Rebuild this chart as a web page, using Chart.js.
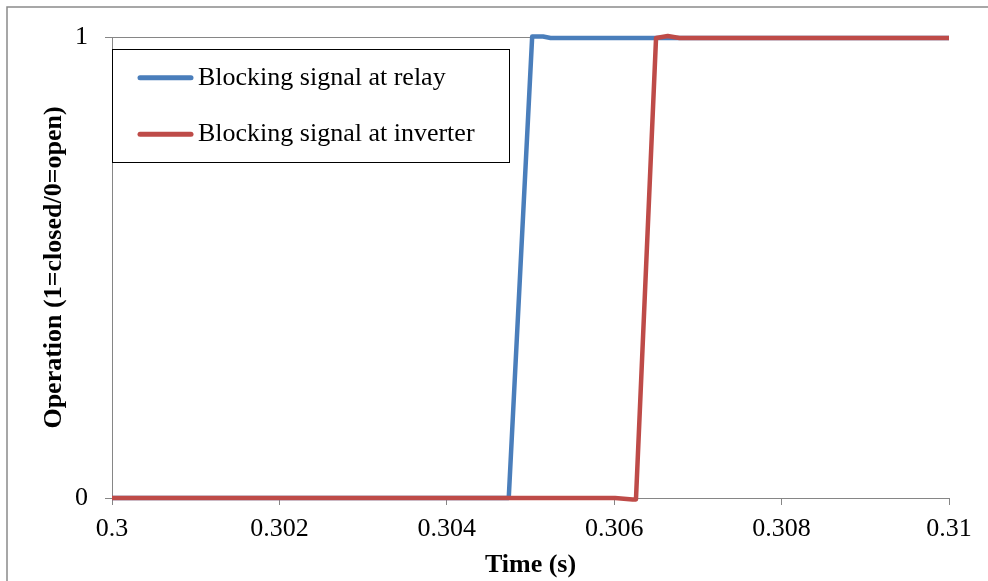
<!DOCTYPE html>
<html>
<head>
<meta charset="utf-8">
<title>Blocking signals</title>
<script src="https://cdn.jsdelivr.net/npm/chart.js@4/dist/chart.umd.min.js"></script>
<style>
  html, body { margin: 0; padding: 0; background: #fff; }
  canvas { display: block; }
</style>
</head>
<body>
<canvas id="chart" width="988" height="581"></canvas>
<script>
// Time axis (s) and tick labels
const xTicks = [0.3, 0.302, 0.304, 0.306, 0.308, 0.31];
const xTickLabels = ['0.3', '0.302', '0.304', '0.306', '0.308', '0.31'];
const yTicks = [0, 1];
const yTickLabels = ['0', '1'];

// Blocking signal at relay
const relayTime  = [0.3, 0.30474, 0.30502, 0.30515, 0.30524, 0.31];
const relayValue = [0,   0,       1.001,   1.001,   0.998,   0.998];

// Blocking signal at inverter
const inverterTime  = [0.3, 0.30601, 0.30622, 0.30626, 0.30650, 0.30664, 0.30678, 0.31];
const inverterValue = [0,   0,       -0.003,  -0.003,  0.998,   1.002,   0.998,   0.998];

const seriesNames = ['Blocking signal at relay', 'Blocking signal at inverter'];
const seriesColors = ['#4A7EBB', '#BE4B48'];

const FONT = '"Liberation Serif", "Times New Roman", serif';
const AXIS_GRAY = '#868686';

const toPoints = (xs, ys) => xs.map((x, i) => ({ x: x, y: ys[i] }));

// Outer frame of the chart object
const framePlugin = {
  id: 'frame',
  beforeDraw(chart) {
    const ctx = chart.ctx;
    ctx.save();
    ctx.fillStyle = '#fff';
    ctx.fillRect(0, 0, chart.width, chart.height);
    ctx.strokeStyle = '#8a8a8a';
    ctx.lineWidth = 1.5;
    ctx.strokeRect(7, 7, chart.width + 20, chart.height + 20);
    ctx.restore();
  }
};

// Boxed legend inside the plot area, top-left
const boxLegend = {
  id: 'boxLegend',
  afterDraw(chart) {
    const { ctx, chartArea } = chart;
    const x0 = chartArea.left;
    const y0 = chartArea.top + 12;
    const w = 397, h = 113;
    ctx.save();
    ctx.fillStyle = '#fff';
    ctx.fillRect(x0, y0, w, h);
    ctx.strokeStyle = '#000';
    ctx.lineWidth = 1;
    ctx.strokeRect(x0 + 0.5, y0 + 0.5, w, h);
    chart.data.datasets.forEach((ds, i) => {
      const y = y0 + 28.7 + i * 56.5;
      ctx.beginPath();
      ctx.strokeStyle = ds.borderColor;
      ctx.lineWidth = 5;
      ctx.lineCap = 'round';
      ctx.moveTo(x0 + 28, y);
      ctx.lineTo(x0 + 79, y);
      ctx.stroke();
      ctx.fillStyle = '#000';
      ctx.font = '26px ' + FONT;
      ctx.textBaseline = 'middle';
      ctx.textAlign = 'left';
      ctx.fillText(ds.label, x0 + 86, y);
    });
    ctx.restore();
  }
};

new Chart(document.getElementById('chart'), {
  type: 'line',
  data: {
    datasets: [
      {
        label: seriesNames[0],
        data: toPoints(relayTime, relayValue),
        borderColor: seriesColors[0],
        backgroundColor: seriesColors[0],
        borderWidth: 4.5,
        pointRadius: 0,
        tension: 0,
        borderJoinStyle: 'round',
        clip: false,
        order: 1
      },
      {
        label: seriesNames[1],
        data: toPoints(inverterTime, inverterValue),
        borderColor: seriesColors[1],
        backgroundColor: seriesColors[1],
        borderWidth: 4.5,
        pointRadius: 0,
        tension: 0,
        borderJoinStyle: 'round',
        clip: false,
        order: 0
      }
    ]
  },
  options: {
    responsive: false,
    animation: false,
    devicePixelRatio: 1,
    layout: { padding: { left: 0, top: 37, right: 39, bottom: 0 } },
    plugins: {
      legend: { display: false },
      tooltip: { enabled: false }
    },
    scales: {
      x: {
        type: 'linear',
        min: 0.3,
        max: 0.31,
        afterBuildTicks: (scale) => { scale.ticks = xTicks.map(v => ({ value: v })); },
        afterFit: (scale) => { scale.height = 83; },
        ticks: {
          color: '#000',
          font: { family: FONT, size: 26 },
          padding: 9,
          maxRotation: 0,
          autoSkip: false,
          callback: (value) => {
            const i = xTicks.findIndex(t => Math.abs(t - value) < 1e-9);
            return i >= 0 ? xTickLabels[i] : '';
          }
        },
        grid: {
          drawOnChartArea: false,
          drawTicks: true,
          tickLength: 7,
          color: AXIS_GRAY,
          lineWidth: 1
        },
        border: { display: true, color: AXIS_GRAY, width: 1 },
        title: {
          display: true,
          text: 'Time (s)',
          color: '#000',
          font: { family: FONT, size: 26, weight: 'bold' },
          padding: { top: 0, bottom: 0 }
        }
      },
      y: {
        type: 'linear',
        min: 0,
        max: 1,
        afterBuildTicks: (scale) => { scale.ticks = yTicks.map(v => ({ value: v })); },
        afterFit: (scale) => { scale.width = 112; },
        ticks: {
          color: '#000',
          font: { family: FONT, size: 26 },
          padding: 17,
          callback: (value) => {
            const i = yTicks.indexOf(value);
            return i >= 0 ? yTickLabels[i] : '';
          }
        },
        grid: {
          drawOnChartArea: true,
          drawTicks: true,
          tickLength: 7,
          color: AXIS_GRAY,
          lineWidth: 1
        },
        border: { display: true, color: AXIS_GRAY, width: 1 },
        title: {
          display: true,
          text: 'Operation (1=closed/0=open)',
          color: '#000',
          font: { family: FONT, size: 26, weight: 'bold' },
          padding: { top: 39, bottom: 0 }
        }
      }
    }
  },
  plugins: [framePlugin, boxLegend]
});
</script>
</body>
</html>
